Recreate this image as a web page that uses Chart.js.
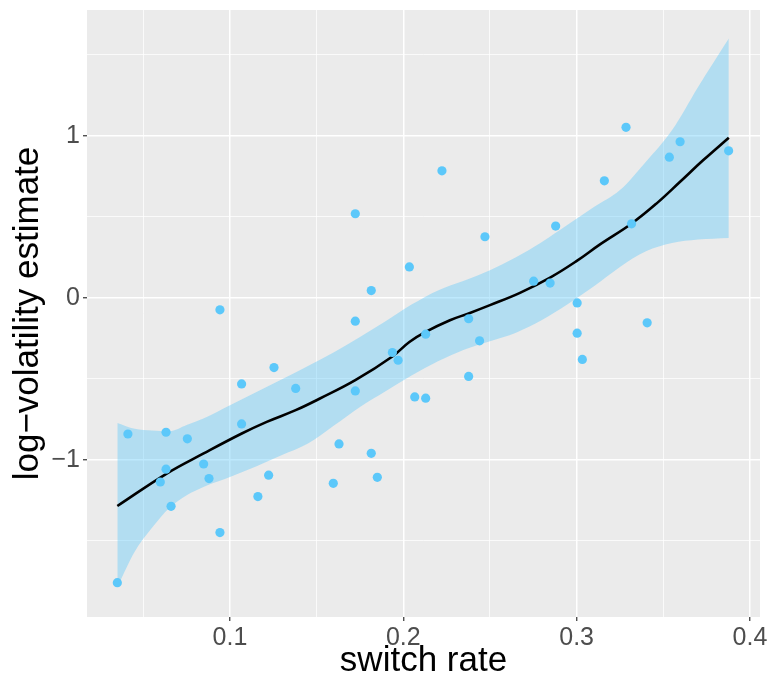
<!DOCTYPE html>
<html>
<head>
<meta charset="utf-8">
<script src="https://cdn.jsdelivr.net/npm/chart.js@4/dist/chart.umd.min.js"></script>
<style>
html,body{margin:0;padding:0;background:#fff;}
#wrap{width:769px;height:682px;}
</style>
</head>
<body>
<div id="wrap"><canvas id="c" width="769" height="682"></canvas></div>
<script>
// Observed points
const switchRate = [0.0942,0.1254,0.1067,0.1379,0.1067,0.0411,0.0631,0.0754,0.0848,0.0631,0.0598,0.0879,0.1223,0.1161,0.0660,0.0942,0.0350,
  0.2223,0.1723,0.2471,0.2035,0.1815,0.1723,0.2377,0.2129,0.2440,0.1937,0.1970,0.2377,0.1723,0.2066,0.2129,0.1629,0.1815,0.1850,0.1596,
  0.3285,0.3597,0.3535,0.3877,0.3160,0.2879,0.3317,0.2752,0.2847,0.3003,0.3003,0.3407,0.3033];
const logVolatility = [-0.074,-0.430,-0.531,-0.559,-0.778,-0.840,-0.829,-0.870,-1.025,-1.057,-1.136,-1.115,-1.094,-1.226,-1.286,-1.448,-1.757,
  0.784,0.519,0.377,0.191,0.045,-0.144,-0.129,-0.224,-0.265,-0.337,-0.385,-0.485,-0.574,-0.611,-0.619,-0.901,-0.959,-1.107,-1.144,
  1.052,0.963,0.868,0.907,0.722,0.443,0.457,0.103,0.091,-0.031,-0.218,-0.154,-0.380];

// Smoothed fit line
const smoothX = [0.035,0.0635,0.0848,0.1068,0.1212,0.1379,0.1519,0.1723,0.1939,0.2035,0.2129,0.2269,0.2377,0.2500,0.2673,0.2847,0.3001,0.3135,0.3318,0.3462,0.3597,0.3731,0.3878];
const smoothY = [-1.284,-1.084,-0.960,-0.837,-0.765,-0.693,-0.621,-0.508,-0.360,-0.272,-0.210,-0.138,-0.096,-0.045,0.031,0.125,0.228,0.330,0.459,0.583,0.716,0.850,0.988];

// Confidence band
const bandX = [0.035,0.045,0.055,0.065,0.075,0.085,0.100,0.115,0.130,0.145,0.160,0.175,0.190,0.205,0.220,0.235,0.250,0.265,0.280,0.295,0.310,0.325,0.340,0.355,0.370,0.3878];
const bandUpper = [-0.772,-0.808,-0.818,-0.822,-0.784,-0.743,-0.662,-0.582,-0.502,-0.420,-0.335,-0.241,-0.143,-0.040,0.046,0.105,0.170,0.251,0.345,0.452,0.560,0.665,0.840,1.034,1.300,1.600];
const bandLower = [-1.784,-1.566,-1.419,-1.297,-1.218,-1.165,-1.105,-1.041,-0.970,-0.899,-0.788,-0.673,-0.575,-0.478,-0.391,-0.320,-0.267,-0.215,-0.137,-0.038,0.071,0.191,0.287,0.338,0.360,0.370];

// Axis ticks
const xTicks = [0.05,0.10,0.15,0.20,0.25,0.30,0.35,0.40];
const xMajor = [0.1,0.2,0.3,0.4];
const yTicks = [-1.5,-1,-0.5,0,0.5,1,1.5];
const yMajor = [-1,0,1];

const xRange = [0.0175, 0.4058];
const yRange = [-1.969, 1.776];

const pts = (xs, ys) => xs.map((x, i) => ({x: x, y: ys[i]}));
const isMajor = (v, list) => list.some(m => Math.abs(m - v) < 1e-9);

const bgPlugin = {
  id: 'panelBg',
  beforeDraw(chart) {
    const {ctx, chartArea: a} = chart;
    ctx.save();
    ctx.fillStyle = '#ffffff';
    ctx.fillRect(0, 0, chart.width, chart.height);
    ctx.fillStyle = '#EBEBEB';
    ctx.fillRect(a.left, a.top, a.right - a.left, a.bottom - a.top);
    ctx.restore();
  }
};

const FONT = "'Liberation Sans', Arial, Helvetica, sans-serif";
const pointColor = 'rgb(92,200,250)';

new Chart(document.getElementById('c'), {
  type: 'scatter',
  data: {
    datasets: [
      {
        label: 'points',
        data: pts(switchRate, logVolatility),
        backgroundColor: pointColor,
        borderWidth: 0,
        pointRadius: 4.6,
        order: 0
      },
      {
        type: 'line',
        label: 'fit',
        data: pts(smoothX, smoothY),
        borderColor: '#000000',
        borderWidth: 2.6,
        pointRadius: 0,
        tension: 0.4,
        fill: false,
        order: 1
      },
      {
        type: 'line',
        label: 'upper',
        data: pts(bandX, bandUpper),
        borderWidth: 0,
        borderColor: 'rgba(0,0,0,0)',
        pointRadius: 0,
        cubicInterpolationMode: 'monotone',
        backgroundColor: 'rgba(92,200,250,0.4)',
        fill: '+1',
        order: 2
      },
      {
        type: 'line',
        label: 'lower',
        data: pts(bandX, bandLower),
        borderWidth: 0,
        borderColor: 'rgba(0,0,0,0)',
        pointRadius: 0,
        cubicInterpolationMode: 'monotone',
        fill: false,
        order: 3
      }
    ]
  },
  options: {
    responsive: false,
    animation: false,
    devicePixelRatio: 1,
    layout: {padding: {top: 10, right: 9, left: 0, bottom: 0}},
    plugins: {legend: {display: false}, tooltip: {enabled: false}},
    scales: {
      x: {
        type: 'linear',
        min: xRange[0], max: xRange[1],
        afterBuildTicks(s) { s.ticks = xTicks.map(v => ({value: v})); },
        afterFit(s) { s.height = 65; s.paddingLeft = 0; s.paddingRight = 0; },
        border: {display: false},
        grid: {
          color: '#ffffff',
          lineWidth: c => isMajor(c.tick.value, xMajor) ? 1.5 : 0.75,
          tickColor: c => isMajor(c.tick.value, xMajor) ? '#333333' : 'rgba(0,0,0,0)',
          tickLength: 4,
          tickWidth: 1.2
        },
        ticks: {
          autoSkip: false,
          maxRotation: 0,
          padding: 2,
          color: '#4D4D4D',
          font: {family: FONT, size: 25},
          callback: v => isMajor(v, xMajor) ? v.toFixed(1) : ''
        },
        title: {
          display: true,
          text: 'switch rate',
          color: '#000000',
          font: {family: FONT, size: 35},
          padding: {top: 0, bottom: 0}
        }
      },
      y: {
        type: 'linear',
        min: yRange[0], max: yRange[1],
        afterBuildTicks(s) { s.ticks = yTicks.map(v => ({value: v})); },
        afterFit(s) { s.width = 87; s.paddingTop = 0; s.paddingBottom = 0; },
        border: {display: false},
        grid: {
          color: '#ffffff',
          lineWidth: c => isMajor(c.tick.value, yMajor) ? 1.5 : 0.75,
          tickColor: c => isMajor(c.tick.value, yMajor) ? '#333333' : 'rgba(0,0,0,0)',
          tickLength: 4,
          tickWidth: 1.2
        },
        ticks: {
          autoSkip: false,
          padding: 3,
          color: '#4D4D4D',
          font: {family: FONT, size: 25},
          callback: v => isMajor(v, yMajor) ? String(v).replace('-', '\u2212') : ''
        },
        title: {
          display: true,
          text: 'log\u2212volatility estimate',
          color: '#000000',
          font: {family: FONT, size: 35},
          padding: {top: 7, bottom: 0}
        }
      }
    }
  },
  plugins: [bgPlugin]
});
</script>
</body>
</html>
